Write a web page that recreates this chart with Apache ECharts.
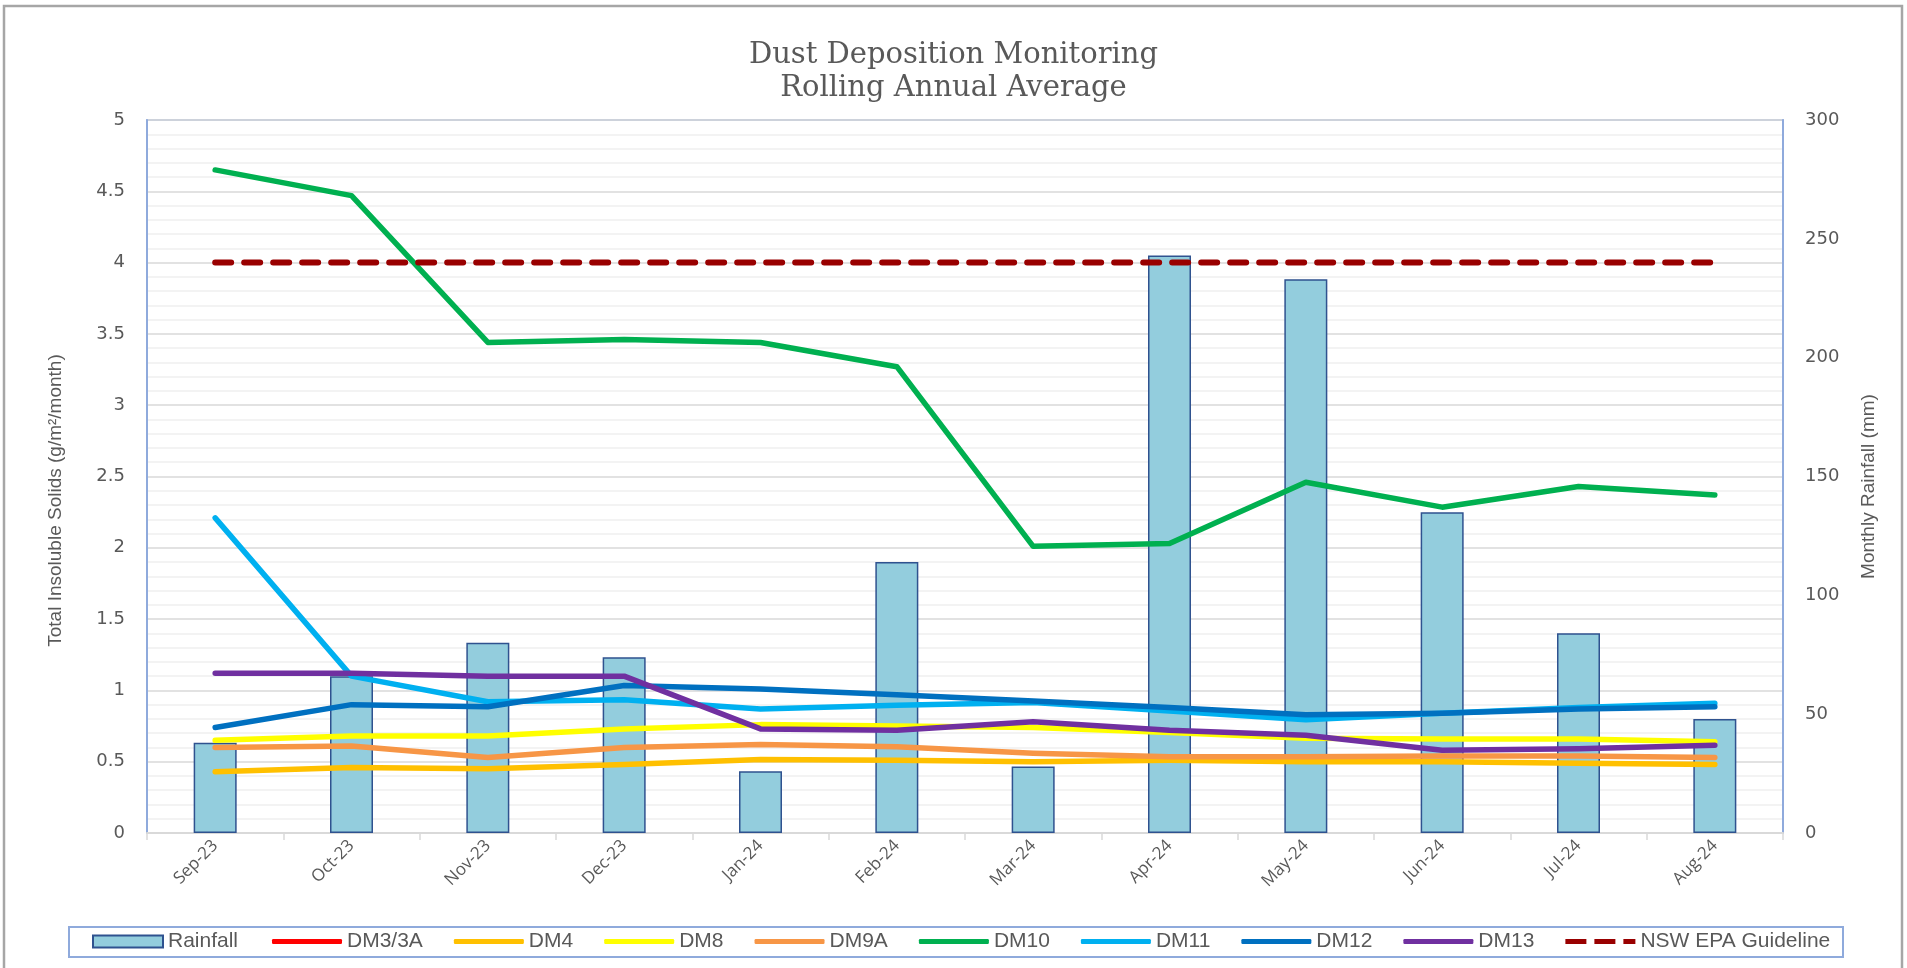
<!DOCTYPE html>
<html>
<head>
<meta charset="utf-8">
<title>Dust Deposition Monitoring</title>
<script src="https://cdn.jsdelivr.net/npm/echarts@6/dist/echarts.min.js"></script>
<style>
  html, body { margin: 0; padding: 0; background: #fff; }
  #main { width: 1907px; height: 968px; }
</style>
</head>
<body>
<div id="main"></div>
<script>
// months
var months = ['Sep-23','Oct-23','Nov-23','Dec-23','Jan-24','Feb-24','Mar-24','Apr-24','May-24','Jun-24','Jul-24','Aug-24'];

// monthly rainfall (mm) - right axis
var rainfall = [38, 66, 80, 74, 26, 114, 28, 243, 233, 135, 84, 48];

// rolling annual averages, g/m2/month - left axis
var dm3 = [];   // no data, only in legend
var dm4  = [0.43, 0.46, 0.45, 0.48, 0.515, 0.51, 0.50, 0.51, 0.50, 0.50, 0.49, 0.48];
var dm8  = [0.65, 0.68, 0.68, 0.73, 0.76, 0.75, 0.74, 0.705, 0.665, 0.66, 0.66, 0.64];
var dm9a = [0.60, 0.61, 0.53, 0.60, 0.62, 0.605, 0.56, 0.535, 0.535, 0.54, 0.54, 0.53];
var dm10 = [4.65, 4.47, 3.44, 3.46, 3.44, 3.27, 2.01, 2.03, 2.46, 2.285, 2.43, 2.37];
var dm11 = [2.21, 1.10, 0.92, 0.935, 0.87, 0.895, 0.915, 0.855, 0.795, 0.84, 0.88, 0.91];
var dm12 = [0.74, 0.90, 0.885, 1.035, 1.01, 0.97, 0.925, 0.88, 0.83, 0.84, 0.87, 0.885];
var dm13 = [1.12, 1.12, 1.10, 1.10, 0.73, 0.72, 0.78, 0.72, 0.685, 0.58, 0.59, 0.615];
var guideline = [4, 4, 4, 4, 4, 4, 4, 4, 4, 4, 4, 4];

var leftTicks = { min: 0, max: 5, interval: 0.5 };
var rightTicks = { min: 0, max: 300, interval: 50 };

var grey = '#595959';
var sans = '"Liberation Sans", Arial, sans-serif';

function lineSeries(name, data, color) {
    return {
        name: name,
        type: 'line',
        yAxisIndex: 0,
        data: data,
        symbol: 'none',
        showSymbol: false,
        lineStyle: { color: color, width: 5.5, cap: 'round', join: 'round' },
        itemStyle: { color: color }
    };
}

var legendText = { color: grey, fontFamily: sans, fontSize: 21 };

var chart = echarts.init(document.getElementById('main'));

var option = {
    animation: false,
    backgroundColor: '#fff',
    title: {
        text: 'Dust Deposition Monitoring\nRolling Annual Average',
        left: 'center',
        top: 39,
        padding: 0,
        textStyle: {
            fontFamily: '"DejaVu Serif", serif',
            fontSize: 29,
            fontWeight: 'normal',
            color: grey,
            lineHeight: 33
        }
    },
    graphic: [{
        type: 'rect',
        silent: true,
        shape: { x: 4, y: 6, width: 1898, height: 990 },
        style: { fill: 'none', stroke: '#a6a6a6', lineWidth: 2.5 }
    }, {
        // legend frame
        type: 'rect',
        silent: true,
        shape: { x: 69, y: 927, width: 1774, height: 30 },
        style: { fill: 'none', stroke: '#8FAADC', lineWidth: 2 }
    }],
    legend: [{
        left: 92,
        top: 931,
        padding: 0,
        itemWidth: 70,
        itemHeight: 12,
        textStyle: legendText,
        data: [{ name: 'Rainfall', icon: 'rect' }]
    }, {
        left: 272,
        top: 931,
        padding: 0,
        itemWidth: 70,
        itemHeight: 5,
        itemGap: 31,
        textStyle: legendText,
        data: [
            { name: 'DM3/3A', icon: 'roundRect' },
            { name: 'DM4', icon: 'roundRect' },
            { name: 'DM8', icon: 'roundRect' },
            { name: 'DM9A', icon: 'roundRect' },
            { name: 'DM10', icon: 'roundRect' },
            { name: 'DM11', icon: 'roundRect' },
            { name: 'DM12', icon: 'roundRect' },
            { name: 'DM13', icon: 'roundRect' },
            { name: 'NSW EPA Guideline', icon: 'path://M0,0 H21 V5 H0 Z M29,0 H50 V5 H29 Z M58,0 H70 V5 H58 Z' }
        ]
    }],
    grid: {
        left: 147,
        right: 124,
        top: 120,
        bottom: 135,
        outerBoundsMode: 'none',
        show: true,
        borderColor: '#8FAADC',
        borderWidth: 1.5
    },
    xAxis: {
        type: 'category',
        data: months,
        axisLine: { lineStyle: { color: '#d9d9d9', width: 2 } },
        axisTick: { show: true, length: 7, lineStyle: { color: '#d9d9d9', width: 1.5 } },
        axisLabel: {
            rotate: 45,
            margin: 10,
            color: grey,
            fontFamily: '"Open Sans", sans-serif',
            fontSize: 17
        }
    },
    yAxis: [{
        type: 'value',
        min: leftTicks.min,
        max: leftTicks.max,
        interval: leftTicks.interval,
        name: 'Total Insoluble Solids (g/m\u00b2/month)',
        nameLocation: 'middle',
        nameRotate: 90,
        nameGap: 82,
        nameTextStyle: { color: grey, fontFamily: sans, fontSize: 19, padding: [0, 48, 0, 0] },
        axisLine: { show: true, lineStyle: { color: '#8FAADC', width: 2 } },
        axisTick: { show: false },
        axisLabel: { color: grey, fontFamily: '"DejaVu Sans", sans-serif', fontSize: 18, margin: 22 },
        splitLine: { show: true, lineStyle: { color: '#d9d9d9', width: 1.5 } },
        minorTick: { show: false, splitNumber: 5 },
        minorSplitLine: { show: true, lineStyle: { color: '#efefef', width: 1.5 } }
    }, {
        type: 'value',
        position: 'right',
        min: rightTicks.min,
        max: rightTicks.max,
        interval: rightTicks.interval,
        name: 'Monthly Rainfall (mm)',
        nameLocation: 'middle',
        nameRotate: 90,
        nameGap: 76,
        nameTextStyle: { color: grey, fontFamily: sans, fontSize: 19, padding: [0, 20, 0, 0] },
        axisLine: { show: true, lineStyle: { color: '#8FAADC', width: 2 } },
        axisTick: { show: false },
        axisLabel: { color: grey, fontFamily: '"DejaVu Sans", sans-serif', fontSize: 18, margin: 22 },
        splitLine: { show: false }
    }],
    series: [
        {
            name: 'Rainfall',
            type: 'bar',
            yAxisIndex: 1,
            data: rainfall,
            barWidth: 43,
            itemStyle: { color: '#93CDDD', borderColor: '#2F528F', borderWidth: 1.5 }
        },
        lineSeries('DM3/3A', dm3, '#FF0000'),
        lineSeries('DM4', dm4, '#FFC000'),
        lineSeries('DM8', dm8, '#FFFF00'),
        lineSeries('DM9A', dm9a, '#F79646'),
        lineSeries('DM10', dm10, '#00B050'),
        lineSeries('DM11', dm11, '#00B0F0'),
        lineSeries('DM12', dm12, '#0070C0'),
        lineSeries('DM13', dm13, '#7030A0'),
        {
            name: 'NSW EPA Guideline',
            type: 'line',
            yAxisIndex: 0,
            data: guideline,
            symbol: 'none',
            showSymbol: false,
            lineStyle: { color: '#990000', width: 6, type: [16, 13], cap: 'round' },
            itemStyle: { color: '#990000' }
        }
    ]
};

chart.setOption(option);
</script>
</body>
</html>
